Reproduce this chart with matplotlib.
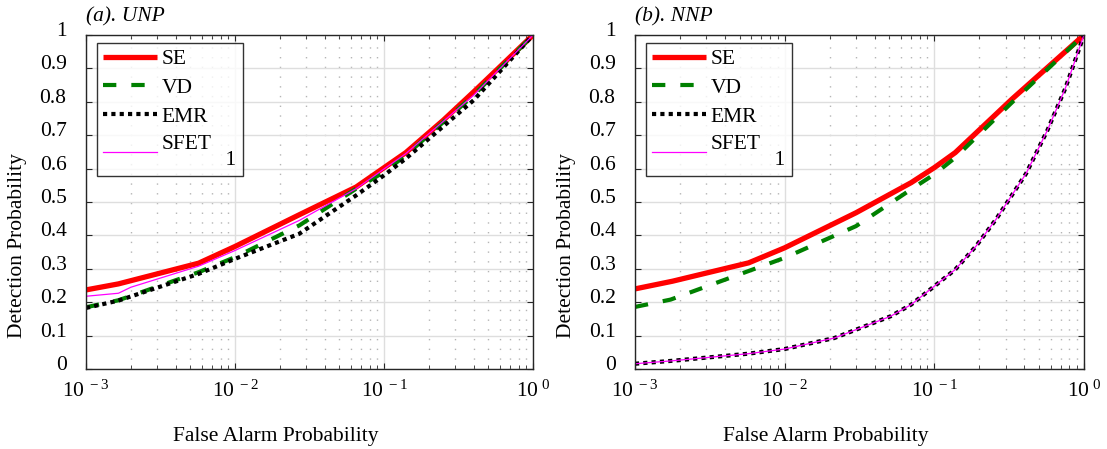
"""ROC comparison: detection vs false alarm probability, UNP and NNP panels."""

import matplotlib
matplotlib.use("Agg")
import matplotlib.pyplot as plt
import matplotlib.transforms as mtransforms
from matplotlib.ticker import FixedLocator, LogLocator, NullFormatter

FS = 15.5

plt.rcParams.update({
    "font.family": ["Liberation Serif", "DejaVu Serif"],
    "font.size": FS,
    "mathtext.fontset": "custom",
    "mathtext.rm": "Liberation Serif",
    "mathtext.it": "Liberation Serif:italic",
    "axes.linewidth": 1.0,
})

# ---- data ----
# panel (a) UNP
unp_se_x = [1e-3, 1.65e-3, 5.7e-3, 1e-2, 2.7e-2, 6.5e-2, 0.14, 0.25, 0.4, 0.6, 1.0]
unp_se_y = [0.237, 0.255, 0.317, 0.367, 0.462, 0.545, 0.648, 0.745, 0.83, 0.905, 1.0]

unp_vd_x = [1e-3, 1.65e-3, 5.7e-3, 1e-2, 2.7e-2, 6.5e-2, 0.1, 0.14, 0.4, 1.0]
unp_vd_y = [0.185, 0.206, 0.29, 0.335, 0.43, 0.54, 0.59, 0.64, 0.82, 1.0]

unp_emr_x = [1e-3, 1.65e-3, 5.7e-3, 1e-2, 2.7e-2, 6.5e-2, 0.1, 0.14, 0.4, 1.0]
unp_emr_y = [0.183, 0.205, 0.285, 0.33, 0.405, 0.52, 0.58, 0.63, 0.805, 1.0]

unp_sfet_x = [1e-3, 1.65e-3, 2e-3, 5.7e-3, 1e-2, 2.7e-2, 6.5e-2, 0.14, 0.4, 1.0]
unp_sfet_y = [0.218, 0.227, 0.245, 0.308, 0.355, 0.445, 0.54, 0.645, 0.82, 1.0]

# panel (b) NNP
nnp_se_x = [1e-3, 1.78e-3, 5.75e-3, 1e-2, 3e-2, 7e-2, 0.1, 0.138, 0.33, 1.0]
nnp_se_y = [0.24, 0.263, 0.318, 0.363, 0.468, 0.558, 0.603, 0.648, 0.808, 1.0]

nnp_vd_x = [1e-3, 1.73e-3, 5.7e-3, 1e-2, 3e-2, 7e-2, 0.1, 0.138, 0.33, 1.0]
nnp_vd_y = [0.186, 0.208, 0.293, 0.333, 0.428, 0.538, 0.583, 0.633, 0.798, 1.0]

nnp_emr_x = [1e-3, 1.8e-3, 5.7e-3, 1e-2, 2.15e-2, 3e-2, 5.1e-2, 7e-2, 0.1,
             0.138, 0.19, 0.26, 0.41, 0.57, 0.75, 1.0]
nnp_emr_y = [0.016, 0.025, 0.046, 0.06, 0.093, 0.118, 0.158, 0.193, 0.248,
             0.298, 0.368, 0.45, 0.585, 0.715, 0.84, 1.0]
nnp_sfet_x = nnp_emr_x
nnp_sfet_y = nnp_emr_y

labels = ["SE", "VD", "EMR", "SFET\n" + " " * 12 + "1"]
yticks = [0, 0.1, 0.2, 0.3, 0.4, 0.5, 0.6, 0.7, 0.8, 0.9, 1.0]
ytick_labels = ["0", "0.1", "0.2", "0.3", "0.4", "0.5", "0.6", "0.7", "0.8", "0.9", "1"]
xticks = [1e-3, 1e-2, 1e-1, 1e0]
xtick_labels = [r"$\mathregular{10^{\ -3}}$", r"$\mathregular{10^{\ -2}}$",
                r"$\mathregular{10^{\ -1}}$", r"$\mathregular{10^{\ 0}}$"]

panels = [
    ("(a). UNP", [0.0777, 0.178, 0.4038, 0.744],
     (unp_se_x, unp_se_y), (unp_vd_x, unp_vd_y),
     (unp_emr_x, unp_emr_y), (unp_sfet_x, unp_sfet_y)),
    ("(b). NNP", [0.5736, 0.178, 0.4056, 0.744],
     (nnp_se_x, nnp_se_y), (nnp_vd_x, nnp_vd_y),
     (nnp_emr_x, nnp_emr_y), (nnp_sfet_x, nnp_sfet_y)),
]

fig = plt.figure(figsize=(11.07, 4.49), dpi=100)

for title, rect, se, vd, emr, sfet in panels:
    ax = fig.add_axes(rect)
    ax.plot(*se, color="#ff0000", lw=3.8, solid_capstyle="butt", label=labels[0])
    ax.plot(*vd, color="#008000", lw=3.0, dashes=(3.2, 3.6),
            dash_capstyle="butt", label=labels[1])
    ax.plot(*emr, color="black", lw=3.0, dashes=(1.0, 1.0),
            dash_capstyle="butt", label=labels[2])
    ax.plot(*sfet, color="#ff00ff", lw=0.9, label=labels[3])

    ax.set_xscale("log")
    ax.set_xlim(1e-3, 1)
    ax.set_ylim(0, 1)
    ax.xaxis.set_major_locator(FixedLocator(xticks))
    ax.set_xticklabels(xtick_labels)
    ax.xaxis.set_minor_locator(LogLocator(base=10, subs=range(2, 10)))
    ax.xaxis.set_minor_formatter(NullFormatter())
    ax.set_yticks(yticks)
    ax.set_yticklabels(ytick_labels)

    ax.tick_params(which="both", direction="in", top=True, right=True,
                   color="#262626", labelsize=FS)
    ax.tick_params(which="major", length=4)
    ax.tick_params(which="minor", length=3)
    ax.tick_params(axis="x", which="major", pad=8)
    ax.tick_params(axis="y", which="major", pad=14)
    for sp in ax.spines.values():
        sp.set_color("#262626")

    # MATLAB-like y tick labels sit a bit above their gridline
    off = mtransforms.ScaledTranslation(0, 0.06, fig.dpi_scale_trans)
    for lab in ax.get_yticklabels():
        lab.set_transform(lab.get_transform() + off)

    ax.grid(True, which="major", color="#dedede", lw=1.0, ls="-")
    ax.grid(True, which="minor", axis="x", color="#b5b5b5", lw=1.0, ls=(0, (1, 6)))
    ax.set_axisbelow(True)

    ax.set_xlabel("False Alarm Probability", fontsize=FS)
    ax.xaxis.set_label_coords(0.425, -0.172)
    ax.set_ylabel("Detection Probability", fontsize=FS)
    ax.yaxis.set_label_coords(-0.132, 0.37)

    ax.text(0.0, 1.04, title, transform=ax.transAxes, fontsize=FS,
            style="italic", ha="left", va="baseline")

    leg = ax.legend(loc="upper left", bbox_to_anchor=(0.024, 0.977),
                    fontsize=FS, frameon=True, fancybox=False,
                    handlelength=2.5, handletextpad=0.2, labelspacing=0.4,
                    borderpad=0.3, borderaxespad=0.0)
    leg.get_frame().set_edgecolor("black")
    leg.get_frame().set_linewidth(1.0)
    for t in leg.get_texts():
        t.set_linespacing(0.75)

fig.savefig("out.png", dpi=100)
